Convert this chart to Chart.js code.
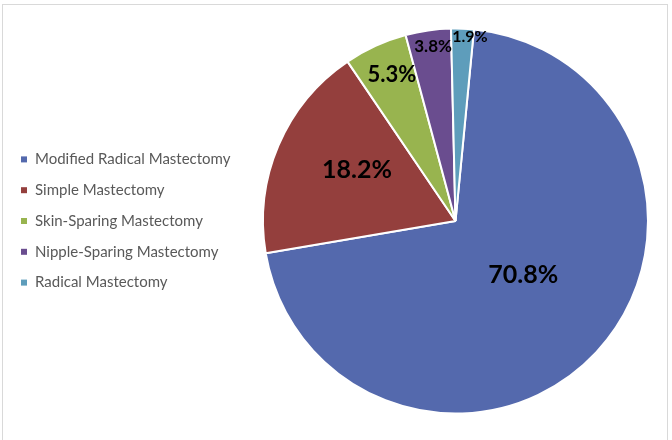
<!DOCTYPE html>
<html lang="en">
<head>
    <meta charset="UTF-8">
    <title>Mastectomy Types</title>
    <script src="https://cdn.jsdelivr.net/npm/chart.js"></script>
    <style>
        body { margin: 0; background: #fff; }
        #wrap { position: relative; width: 672px; height: 440px; overflow: hidden; }
        #frame {
            position: absolute; left: 2px; top: 4px; width: 666px; height: 460px;
            border: 1px solid #d9d9d9; box-sizing: border-box;
        }
        canvas { position: absolute; left: 0; top: 0; }
    </style>
</head>
<body>
<div id="wrap">
    <div id="frame"></div>
    <canvas id="pieChart" width="672" height="440"></canvas>
</div>
<script>
    // Data
    const categories = [
        'Modified Radical Mastectomy',
        'Simple Mastectomy',
        'Skin-Sparing Mastectomy',
        'Nipple-Sparing Mastectomy',
        'Radical Mastectomy'
    ];
    const shares = [70.8, 18.2, 5.3, 3.8, 1.9];
    const sliceColors = ['#5469ad', '#943f3d', '#98b44f', '#6a4d8f', '#5e9dbb'];

    // Label placement: fraction of radius, angle shift (deg), font size
    const labelRadius = [0.45, 0.576, 0.83, 0.912, 0.96];
    const labelShift = [-4.4, 4.2, 1.1, 0.85, 2.4];
    const labelSize = [25, 25, 22, 17, 16];

    // Draws the percentage inside each slice
    const sliceLabels = {
        id: 'sliceLabels',
        afterDatasetsDraw(chart) {
            const ctx = chart.ctx;
            const meta = chart.getDatasetMeta(0);
            meta.data.forEach((arc, i) => {
                const p = arc.getProps(['x', 'y', 'startAngle', 'endAngle', 'outerRadius'], true);
                const mid = (p.startAngle + p.endAngle) / 2 + labelShift[i] * Math.PI / 180;
                const r = p.outerRadius * labelRadius[i];
                ctx.save();
                ctx.font = 'bold ' + labelSize[i] + 'px Lato';
                ctx.fillStyle = '#000';
                ctx.textAlign = 'center';
                ctx.textBaseline = 'middle';
                ctx.fillText(shares[i].toFixed(1) + '%', p.x + r * Math.cos(mid), p.y + r * Math.sin(mid));
                ctx.restore();
            });
        }
    };

    // Legend on the left, Excel style
    const sideLegend = {
        id: 'sideLegend',
        afterDraw(chart) {
            const ctx = chart.ctx;
            const labels = chart.data.labels;
            const colors = chart.data.datasets[0].backgroundColor;
            const rowGap = 30.8;
            const top = 221 - rowGap * (labels.length - 1) / 2;
            ctx.save();
            ctx.font = '15px Lato';
            ctx.textBaseline = 'middle';
            labels.forEach((txt, i) => {
                const y = top + i * rowGap;
                ctx.fillStyle = colors[i];
                ctx.fillRect(21, y - 3, 6, 6);
                ctx.fillStyle = '#595959';
                ctx.fillText(txt, 35, y);
            });
            ctx.restore();
        }
    };

    const ctx = document.getElementById('pieChart').getContext('2d');
    new Chart(ctx, {
        type: 'pie',
        data: {
            labels: categories,
            datasets: [{
                data: shares,
                backgroundColor: sliceColors,
                borderColor: '#ffffff',
                borderWidth: 2
            }]
        },
        options: {
            responsive: false,
            animation: false,
            rotation: 5.5,
            layout: {
                padding: { left: 262, right: 23, top: 27, bottom: 25 }
            },
            plugins: {
                legend: { display: false },
                tooltip: { enabled: false }
            }
        },
        plugins: [sliceLabels, sideLegend]
    });
</script>
</body>
</html>
